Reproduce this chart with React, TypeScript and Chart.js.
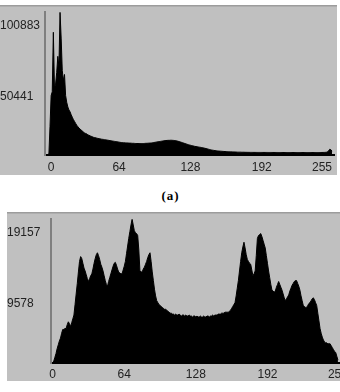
import React, { useEffect, useRef } from "react";
import { Chart, registerables } from "chart.js";

Chart.register(...registerables);

// Histogram bins (grey levels)
const bins: number[] = Array.from({ length: 256 }, (_, i) => i);
const xTickValues = [0, 64, 128, 192, 255];

// (a) histogram counts
const topYTicks = [50441, 100883];
const topValues = [
  340, 680, 20300, 42000, 44700, 86700, 47400, 50100, 58200, 69700,
  62300, 100883, 82600, 59600, 52800, 56900, 42000, 37200, 33900, 31800,
  30500, 28400, 26700, 25000, 23700, 22300, 21000, 20000, 19000, 18300,
  17600, 16900, 16200, 15600, 15200, 14900, 14200, 13900, 13500, 13200,
  12900, 12500, 12300, 12200, 11900, 11700, 11500, 11400, 11200, 11100,
  11000, 10800, 10700,
  10560, 10430, 10290, 10160, 10020, 9880, 9750, 9610, 9480, 9340, 9210, 9070,
  8940, 8800, 8800, 8670, 8670, 8530, 8530, 8460, 8400, 8400, 8330, 8260, 8260, 8190,
  8120, 8120, 8120, 8120, 8120, 8120, 8120, 8120,
  8190, 8260, 8260, 8330, 8400,
  8460, 8530, 8670, 8800, 8940, 9070, 9210, 9340, 9480, 9610, 9750, 9880,
  10020, 10160, 10220, 10290, 10360, 10360, 10430, 10430, 10360, 10290, 10160, 10020, 9880, 9680, 9480,
  9210, 8940, 8670, 8400, 8120, 7850, 7580, 7310, 7110, 6910,
  6700, 6500, 6300, 6090, 5960, 5820, 5690, 5550, 5420, 5280,
  5150, 4940, 4740, 4540, 4330, 4130, 3930, 3720, 3520, 3390,
  3250, 3110, 2980, 2910, 2840, 2780, 2710, 2640,
  2570, 2500, 2440, 2370, 2370, 2300, 2300, 2230, 2230, 2170, 2170,
  2100, 2100, 2030, 2030, 2030, 2030, 1960, 1960, 1960, 1900, 1900,
  1880, 1870, 1860, 1850, 1850, 1840, 1840, 1830, 1830, 1820, 1820, 1820,
  1810, 1810, 1810, 1800, 1800, 1800, 1800, 1790, 1790, 1790, 1790, 1780,
  1780, 1780, 1780, 1780, 1770, 1770, 1770, 1770, 1770, 1760, 1760, 1760,
  1760, 1760, 1760, 1750, 1750, 1750, 1750, 1750, 1750, 1740, 1740, 1740,
  1740, 1740, 1740, 1740, 1740, 1730, 1730, 1730, 1730, 1730, 1730, 1730,
  1730, 1730, 1740, 1740, 1750, 1760, 1770, 1780, 1800, 1830, 1880, 1950,
  2370, 3050, 4060, 3720, 2710,
];

// second histogram counts
const bottomYTicks = [9578, 19157];
const bottomValues = [
  64, 255, 766, 1277, 1916, 2426, 2937, 3320, 3959, 4470,
  4470, 4597, 4597, 5108, 5491, 5236, 4853, 5363, 5874, 6385,
  7790, 9194, 10599, 12132, 13536, 14175, 13919, 13281, 12642, 12259,
  11748, 11238, 10855, 11238, 11621, 11876, 12515, 13281, 13919, 14430,
  14686, 14302, 13792, 13153, 12770, 12259, 11621, 10982, 10471, 10216,
  10855, 11365, 11876, 12387, 12898, 13281, 13409, 13025, 12515, 12132,
  12004, 11876, 11876, 12387, 12898, 13536, 14558, 15579, 16601, 17495,
  18389, 19157, 18389, 17623, 17367, 17240, 16984, 15069, 12259, 12132,
  12132, 12515, 12770, 13153, 13536, 14047, 14430, 14686, 13536, 12132,
  10982, 9833, 8939, 8301, 8045, 7790, 7662, 7534, 7407, 7279,
  7151, 7151, 7024, 6896, 6768, 6640,
  6640, 6513, 6513, 6385, 6513, 6385, 6385, 6513, 6385, 6257,
  6385, 6385, 6257, 6385, 6257, 6257, 6385, 6257, 6257, 6130,
  6257, 6257, 6130, 6257, 6130, 6130, 6257, 6130, 6130, 6257,
  6130, 6130, 6257, 6257, 6130, 6257, 6257, 6385, 6257, 6385,
  6385, 6385, 6513, 6513, 6513, 6640, 6640, 6640, 6768, 6768,
  6768, 6768, 6896,
  7024, 7279, 7534, 7790, 8045, 8939, 9961, 10982, 12259, 13536,
  14686, 15452, 16090, 15324, 14430, 13792, 13536, 13281, 13153, 12387,
  11621, 11876, 12259, 14302, 16601, 16984, 17112, 17240, 16856, 16346,
  15835, 15324, 14302, 13281, 12259, 11365, 10471, 9705, 9578, 9450,
  9578, 10088, 10471, 10855, 10471, 10088, 9705, 9194, 8684, 8301,
  8556, 8811, 9067, 9578, 9961, 10344, 10599, 10855, 10982, 10982,
  10599, 10216, 9705, 8939, 8301, 7662, 7534, 7407, 7407, 7662,
  7917, 8045, 8301, 8556, 8684, 8428, 8045, 7662, 6640, 5619,
  4597, 3959, 3448, 3065, 2809, 2682, 2682, 2554, 2554, 2554,
  2299, 2043, 1788, 1532, 1405, 894, 383,
];

const caption = "(a)";

const FONT = "'Liberation Sans', Arial, sans-serif";
const FONT_SIZE = 12;
const LABEL_COLOR = "#222222";

const panelPlugin = {
  id: "panel",
  beforeDraw(chart: any) {
    const { ctx, width, height } = chart;
    ctx.save();
    ctx.fillStyle = "#c0c0c0";
    ctx.fillRect(0, 0, width, height);
    ctx.fillStyle = "#9c9c9c";
    ctx.fillRect(0, 0, width, 1.5);
    ctx.restore();
  },
};

type PanelProps = {
  values: number[];
  yTicks: number[];
  xMin: number;
  xMax: number;
  yAxisWidth: number;
  xAxisHeight: number;
  padTop: number;
  padRight: number;
  width: number;
  height: number;
  left: number;
  top: number;
  xAlign: "center" | "inner";
  xPad: number;
  yLabelOffset: number;
};

function Histogram(p: PanelProps) {
  const ref = useRef<HTMLCanvasElement>(null);
  useEffect(() => {
    const chart = new Chart(ref.current as HTMLCanvasElement, {
      type: "line",
      data: {
        labels: bins,
        datasets: [
          {
            data: p.values,
            fill: "origin",
            backgroundColor: "#000000",
            borderColor: "#000000",
            borderWidth: 1,
            pointRadius: 0,
            tension: 0,
          },
        ],
      },
      options: {
        responsive: false,
        animation: false,
        devicePixelRatio: 1,
        layout: { padding: { top: p.padTop, right: p.padRight, left: 0, bottom: 0 } },
        plugins: { legend: { display: false }, tooltip: { enabled: false } },
        scales: {
          x: {
            type: "linear",
            min: p.xMin,
            max: p.xMax,
            grid: { display: false, drawTicks: false },
            border: { display: true, color: "#000000", width: 2 },
            afterBuildTicks: (s: any) => {
              s.ticks = xTickValues.map((v) => ({ value: v }));
            },
            afterFit: (s: any) => {
              s.height = p.xAxisHeight;
            },
            ticks: {
              autoSkip: false,
              maxRotation: 0,
              padding: p.xPad,
              align: p.xAlign,
              color: LABEL_COLOR,
              font: { family: FONT, size: FONT_SIZE },
              callback: (v: any) => String(v),
            },
          },
          y: {
            type: "linear",
            min: 0,
            max: p.yTicks[p.yTicks.length - 1],
            grid: { display: false, drawTicks: false },
            border: { display: true, color: "#7f7f7f", width: 2 },
            afterBuildTicks: (s: any) => {
              s.ticks = p.yTicks.map((v) => ({ value: v }));
            },
            afterFit: (s: any) => {
              s.width = p.yAxisWidth;
            },
            ticks: {
              crossAlign: "far",
              labelOffset: p.yLabelOffset,
              padding: 0,
              color: LABEL_COLOR,
              font: { family: FONT, size: FONT_SIZE },
              callback: (v: any) => String(v),
            },
          },
        },
      } as any,
      plugins: [panelPlugin],
    });
    return () => chart.destroy();
  }, []);
  return (
    <canvas
      ref={ref}
      width={p.width}
      height={p.height}
      style={{ position: "absolute", left: p.left, top: p.top, width: p.width, height: p.height }}
    />
  );
}

export default function App() {
  return (
    <div
      style={{
        position: "absolute",
        left: 0,
        top: 0,
        width: 340,
        height: 392,
        overflow: "hidden",
        background: "#ffffff",
      }}
    >
      <Histogram
        values={topValues}
        yTicks={topYTicks}
        xMin={-2.5}
        xMax={257}
        yAxisWidth={45}
        xAxisHeight={20}
        padTop={1.5}
        padRight={1}
        width={337}
        height={170}
        left={0}
        top={5}
        xAlign="inner"
        xPad={5}
        yLabelOffset={13}
      />
      <div
        style={{
          position: "absolute",
          left: 0,
          top: 188,
          width: 341,
          textAlign: "center",
          fontFamily: "'Liberation Serif', 'Times New Roman', serif",
          fontWeight: "bold",
          fontSize: 13,
          lineHeight: "16px",
          letterSpacing: 1,
          color: "#000",
        }}
      >
        {caption}
      </div>
      <Histogram
        values={bottomValues}
        yTicks={bottomYTicks}
        xMin={-1.5}
        xMax={256}
        yAxisWidth={44}
        xAxisHeight={18}
        padTop={2}
        padRight={12}
        width={345}
        height={169}
        left={7}
        top={212}
        xAlign="center"
        xPad={4}
        yLabelOffset={13}
      />
    </div>
  );
}
